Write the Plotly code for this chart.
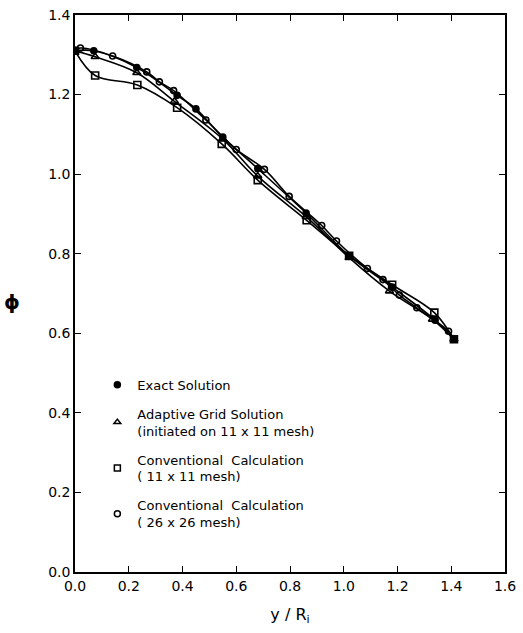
import plotly.graph_objects as go

# Data
exact_x = [0.0, 0.07, 0.23, 0.38, 0.45, 0.55, 0.68, 0.86, 1.02, 1.18, 1.34, 1.41]
exact_y = [1.31, 1.31, 1.268, 1.198, 1.164, 1.093, 1.014, 0.902, 0.795, 0.716, 0.633, 0.585]

adaptive_x = [0.0, 0.075, 0.23, 0.37, 0.55, 0.68, 0.86, 1.02, 1.17, 1.33, 1.41]
adaptive_y = [1.31, 1.295, 1.255, 1.183, 1.088, 0.995, 0.893, 0.79, 0.706, 0.635, 0.585]

conv11_x = [0.0, 0.075, 0.232, 0.38, 0.546, 0.68, 0.862, 1.02, 1.18, 1.337, 1.41]
conv11_y = [1.31, 1.248, 1.224, 1.167, 1.076, 0.985, 0.884, 0.795, 0.722, 0.652, 0.585]

conv26_x = [0.0, 0.02, 0.14, 0.267, 0.314, 0.367, 0.487, 0.6, 0.705, 0.797, 0.918,
            0.973, 1.088, 1.146, 1.207, 1.272, 1.39, 1.41]
conv26_y = [1.31, 1.317, 1.297, 1.257, 1.232, 1.21, 1.136, 1.062, 1.012, 0.944, 0.871,
            0.832, 0.763, 0.735, 0.696, 0.664, 0.605, 0.585]

legend_names = [
    "Exact Solution",
    "Adaptive Grid Solution<br>(initiated on 11 x 11 mesh)",
    "Conventional  Calculation<br>( 11 x 11 mesh)",
    "Conventional  Calculation<br>( 26 x 26 mesh)",
]

x_ticks = [0.0, 0.2, 0.4, 0.6, 0.8, 1.0, 1.2, 1.4, 1.6]
y_ticks = [0.0, 0.2, 0.4, 0.6, 0.8, 1.0, 1.2, 1.4]

FONT = "DejaVu Sans"
fig = go.Figure()

series = [
    (exact_x, exact_y, "circle", 6),
    (adaptive_x, adaptive_y, "triangle-up-open", 7),
    (conv11_x, conv11_y, "square-open", 7),
    (conv26_x, conv26_y, "circle-open", 6),
]

for xs, ys, sym, sz in series:
    fig.add_trace(go.Scatter(
        x=xs, y=ys, mode="lines+markers", showlegend=False,
        line=dict(color="black", width=1.6, shape="spline", smoothing=1.0),
        marker=dict(symbol=sym, size=sz, color="black",
                    line=dict(color="black", width=1.6)),
    ))

leg_syms = ["circle", "triangle-up-open", "square-open", "circle-open"]
for i, (name, sym) in enumerate(zip(legend_names, leg_syms)):
    fig.add_trace(go.Scatter(
        x=[None], y=[None], mode="markers", name=name, legendgroup=f"g{i}",
        marker=dict(symbol=sym, size=6, color="black",
                    line=dict(color="black", width=1.5)),
    ))

axis_common = dict(
    showgrid=False, zeroline=False, showline=True, linecolor="black", linewidth=1.5,
    mirror="ticks", ticks="inside", ticklen=6, tickwidth=1.2, tickcolor="black",
    tickfont=dict(family=FONT, size=14, color="black"),
)

fig.update_layout(
    width=523, height=633,
    margin=dict(l=75, r=16, t=7, b=61),
    paper_bgcolor="white", plot_bgcolor="white",
    xaxis=dict(range=[0, 1.6], tickvals=x_ticks,
               ticktext=[f"{v:.1f}" for v in x_ticks],
               title=dict(text="y / R<sub>i</sub>", standoff=16,
                          font=dict(family=FONT, size=16, color="black")),
               **axis_common),
    yaxis=dict(range=[0, 1.4], tickvals=y_ticks,
               ticktext=[f"{v:.1f}" for v in y_ticks],
               **axis_common),
    legend=dict(x=0.052, y=0.363, xanchor="left", yanchor="top",
                bgcolor="rgba(0,0,0,0)", tracegroupgap=9,
                font=dict(family=FONT, size=13, color="black"),
                itemwidth=30),
    annotations=[dict(text="<b>ϕ</b>", xref="paper", yref="paper",
                      x=-0.146, y=0.485, xanchor="center", yanchor="middle",
                      showarrow=False,
                      font=dict(family=FONT, size=20, color="black"))],
)

fig.write_html("out.html")
